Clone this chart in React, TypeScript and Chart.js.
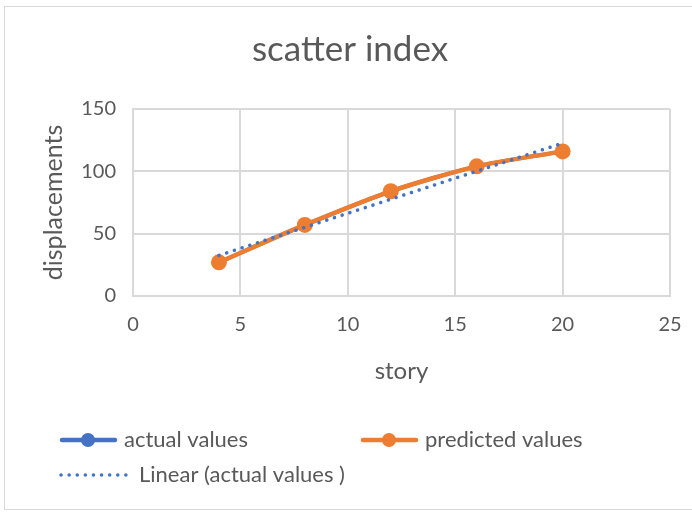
import React, { useEffect, useRef } from "react";
import { Chart, registerables } from "chart.js";

Chart.register(...registerables);

const chartTitle = "scatter index";
const stories = [4, 8, 12, 16, 20];
const actualValues = [27, 57, 84, 104, 116];
const predictedValues = [27, 57, 84, 104, 116];
const xTicks = [0, 5, 10, 15, 20, 25];
const yTicks = [0, 50, 100, 150];

const FONT = "Lato";
const TEXT = "#595959";
const GRID = "#d9d9d9";
const BLUE = "#4472C4";
const ORANGE = "#ED7D31";

function linearFit(xs: number[], ys: number[]) {
  const n = xs.length;
  const mx = xs.reduce((a, b) => a + b, 0) / n;
  const my = ys.reduce((a, b) => a + b, 0) / n;
  let sxy = 0;
  let sxx = 0;
  for (let i = 0; i < n; i++) {
    sxy += (xs[i] - mx) * (ys[i] - my);
    sxx += (xs[i] - mx) * (xs[i] - mx);
  }
  const slope = sxy / sxx;
  return { slope, intercept: my - slope * mx };
}

const legendSlots = [
  { x: 60, y: 440 },
  { x: 361, y: 440 },
  { x: 59, y: 475 },
];

const titlePlugin = {
  id: "customTitle",
  afterDraw(chart: any) {
    const ctx = chart.ctx;
    ctx.save();
    ctx.fillStyle = TEXT;
    ctx.font = `35px ${FONT}`;
    ctx.textAlign = "center";
    ctx.textBaseline = "middle";
    ctx.fillText(chartTitle, 350, 50);
    ctx.restore();
  },
};

const legendPlugin = {
  id: "customLegend",
  afterDraw(chart: any) {
    const ctx = chart.ctx;
    ctx.save();
    chart.data.datasets.forEach((ds: any, i: number) => {
      const slot = legendSlots[i];
      if (!slot) return;
      const { x, y } = slot;
      let textX;
      if (ds.isTrend) {
        ctx.strokeStyle = ds.borderColor;
        ctx.lineWidth = 3.5;
        ctx.lineCap = "round";
        ctx.setLineDash([0.1, 8]);
        ctx.beginPath();
        ctx.moveTo(x + 2, y);
        ctx.lineTo(x + 68, y);
        ctx.stroke();
        ctx.setLineDash([]);
        textX = x + 80;
      } else {
        ctx.strokeStyle = ds.borderColor;
        ctx.lineWidth = 4.5;
        ctx.lineCap = "round";
        ctx.beginPath();
        ctx.moveTo(x + 2, y);
        ctx.lineTo(x + 55, y);
        ctx.stroke();
        ctx.fillStyle = ds.pointBackgroundColor;
        ctx.beginPath();
        ctx.arc(x + 28, y, 7, 0, Math.PI * 2);
        ctx.fill();
        textX = x + 64;
      }
      ctx.fillStyle = TEXT;
      ctx.font = `22px ${FONT}`;
      ctx.textAlign = "left";
      ctx.textBaseline = "middle";
      ctx.fillText(ds.label, textX, y);
    });
    ctx.restore();
  },
};

export default function App() {
  const ref = useRef<HTMLCanvasElement>(null);

  useEffect(() => {
    if (!ref.current) return;
    const fit = linearFit(stories, actualValues);
    const trendX = [stories[0], stories[stories.length - 1]];
    const chart = new Chart(ref.current, {
      type: "scatter",
      data: {
        datasets: [
          {
            label: "actual values",
            data: stories.map((s, i) => ({ x: s, y: actualValues[i] })),
            showLine: true,
            borderColor: BLUE,
            backgroundColor: BLUE,
            pointBackgroundColor: BLUE,
            pointBorderColor: BLUE,
            borderWidth: 4,
            pointRadius: 6.5,
            pointBorderWidth: 0,
            tension: 0.25,
            order: 3,
          } as any,
          {
            label: "predicted values",
            data: stories.map((s, i) => ({ x: s, y: predictedValues[i] })),
            showLine: true,
            borderColor: ORANGE,
            backgroundColor: ORANGE,
            pointBackgroundColor: ORANGE,
            pointBorderColor: ORANGE,
            borderWidth: 4.5,
            pointRadius: 8,
            pointBorderWidth: 0,
            tension: 0.25,
            order: 2,
          } as any,
          {
            label: "Linear (actual values )",
            isTrend: true,
            data: trendX.map((s) => ({ x: s, y: fit.intercept + fit.slope * s })),
            showLine: true,
            borderColor: BLUE,
            backgroundColor: BLUE,
            borderWidth: 3.5,
            borderDash: [0.1, 8],
            borderCapStyle: "round",
            pointRadius: 0,
            order: 1,
          } as any,
        ],
      },
      options: {
        responsive: false,
        animation: false,
        layout: { padding: { left: 0, right: 22, top: 109, bottom: 117 } },
        plugins: {
          legend: { display: false },
          tooltip: { enabled: false },
          title: { display: false },
        },
        scales: {
          x: {
            type: "linear",
            min: 0,
            max: 25,
            afterBuildTicks: (axis: any) => {
              axis.ticks = xTicks.map((v) => ({ value: v }));
            },
            afterFit: (axis: any) => {
              axis.height = 100;
              axis.paddingLeft = 0;
              axis.paddingRight = 0;
            },
            grid: { color: GRID, lineWidth: 2, drawTicks: false },
            border: { color: GRID, width: 2 },
            ticks: {
              color: TEXT,
              font: { family: FONT, size: 20 },
              padding: 17,
            },
            title: {
              display: true,
              text: "story",
              color: TEXT,
              font: { family: FONT, size: 24, lineHeight: 1.2 },
              padding: { top: 0, bottom: 10 },
            },
          },
          y: {
            type: "linear",
            min: 0,
            max: 150,
            afterBuildTicks: (axis: any) => {
              axis.ticks = yTicks.map((v) => ({ value: v }));
            },
            afterFit: (axis: any) => {
              axis.width = 133;
            },
            grid: { color: GRID, lineWidth: 2, drawTicks: false },
            border: { color: GRID, width: 2 },
            ticks: {
              color: TEXT,
              font: { family: FONT, size: 20 },
              padding: 17,
            },
            title: {
              display: true,
              text: "displacements",
              color: TEXT,
              font: { family: FONT, size: 25, lineHeight: 1.2 },
              padding: { top: 39, bottom: 0 },
            },
          },
        },
      },
      plugins: [titlePlugin, legendPlugin],
    });
    return () => chart.destroy();
  }, []);

  return (
    <div
      style={{
        position: "fixed",
        left: 0,
        top: 0,
        width: 692,
        height: 513,
        background: "#fff",
        overflow: "hidden",
      }}
    >
      <div
        style={{
          position: "absolute",
          left: 4,
          top: 6,
          width: 700,
          height: 504,
          border: "1px solid #d9d9d9",
          boxSizing: "border-box",
        }}
      />
      <canvas
        ref={ref}
        width={692}
        height={513}
        style={{ position: "absolute", left: 0, top: 0 }}
      />
    </div>
  );
}
